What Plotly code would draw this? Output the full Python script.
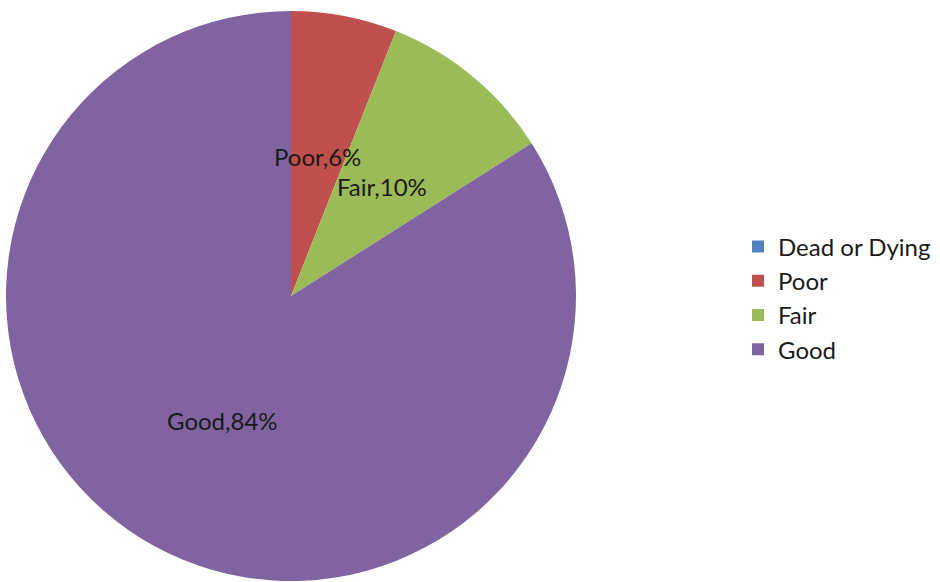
import numpy as np
import plotly.graph_objects as go

# Tree condition breakdown
categories = ["Dead or Dying", "Poor", "Fair", "Good"]
shares = [0, 6, 10, 84]
colors = ["#4F81BD", "#C0504D", "#9BBB59", "#8064A2"]

W, H = 940, 582
# pie placement in pixels: centre and radius
cx, cy, R = 291, 296, 285
dom_x = [(cx - R) / W, (cx + R) / W]
dom_y = [(H - cy - R) / H, (H - cy + R) / H]

FONT = "Lato"
FS = 24

fig = go.Figure(
    go.Pie(
        labels=categories,
        values=shares,
        marker=dict(colors=colors, line=dict(width=0)),
        sort=False,
        direction="clockwise",
        rotation=0,
        textinfo="none",
        hoverinfo="label+percent",
        domain=dict(x=dom_x, y=dom_y),
    )
)

# data labels at half the radius along each slice's middle angle
total = sum(shares)
start = 0.0
annotations = []
for name, v in zip(categories, shares):
    if v > 0:
        mid = (start + v / 2) / total * 2 * np.pi
        px = cx + 0.5 * R * np.sin(mid)
        py = cy - 0.5 * R * np.cos(mid)
        annotations.append(
            dict(
                x=px / W, y=1 - py / H, xref="paper", yref="paper",
                text=f"{name},{v}%", showarrow=False,
                font=dict(family=FONT, size=FS, color="#1a1a1a"),
                xanchor="center", yanchor="middle",
            )
        )
    start += v

fig.update_layout(
    width=W, height=H,
    margin=dict(l=0, r=0, t=0, b=0),
    paper_bgcolor="white",
    font=dict(family=FONT, size=FS, color="#1a1a1a"),
    annotations=annotations,
    legend=dict(
        x=738 / W, y=1 - 298 / H, xanchor="left", yanchor="middle",
        font=dict(family=FONT, size=FS, color="#1a1a1a"),
        traceorder="normal",
    ),
    showlegend=True,
)

fig.write_html("out.html")
